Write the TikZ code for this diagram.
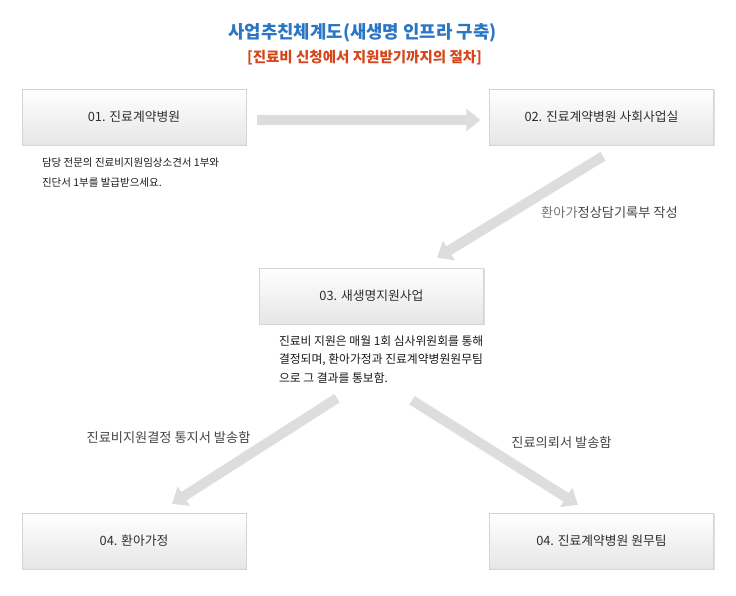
\documentclass[tikz,border=0pt]{standalone}
\usepackage{fontspec}
\setmainfont{Noto Sans CJK KR}
\usetikzlibrary{arrows.meta,shadows}
\definecolor{ttlblue}{HTML}{2B76C4}
\definecolor{subred}{HTML}{D6461A}
\definecolor{boxline}{HTML}{D4D4D4}
\definecolor{boxbot}{HTML}{E6E6E6}
\definecolor{flowgray}{HTML}{DDDDDD}
\definecolor{txtdark}{HTML}{2E2E2E}
\definecolor{lbldark}{HTML}{444444}
\tikzset{
  stepbox/.style={rectangle, draw=boxline, top color=white, bottom color=boxbot,
    minimum width=224pt, minimum height=56pt, inner sep=0pt, text=txtdark,
    font=\fontsize{12.8}{14}\selectfont,
    drop shadow={shadow xshift=1pt, shadow yshift=-1pt, opacity=0.12, fill=black}},
  flow/.style={draw=flowgray, line width=10pt, -{Triangle[length=14pt,width=22pt]}},
  note/.style={anchor=north west, inner sep=0pt, align=left, text=black!90},
  lbl/.style={inner sep=0pt, text=lbldark, font=\fontsize{13.2}{15}\selectfont}
}
\begin{document}
\begin{tikzpicture}[x=1pt, y=-1pt]
\useasboundingbox (0,0) rectangle (736,595);
\node[font=\fontsize{17.8}{20}\selectfont\bfseries, text=ttlblue] (ttl) at (362.5,33) {사업추친체계도(새생명 인프라 구축)};
\node[font=\fontsize{14.5}{16}\selectfont\bfseries, text=subred] (sub) at (364.5,58) {[진료비 신청에서 지원받기까지의 절차]};
\node[stepbox] (b1) at (134,117) {01. 진료계약병원};
\node[stepbox] (b2) at (601.5,117) {02. 진료계약병원 사회사업실};
\node[stepbox] (b3) at (371.5,296) {03. 새생명지원사업};
\node[stepbox] (b4a) at (134,541) {04. 환아가정};
\node[stepbox] (b4b) at (601.5,541) {04. 진료계약병원 원무팀};
\node[note, font=\fontsize{10.5}{20}\selectfont] (n1) at ([xshift=20pt,yshift=-12pt]b1.south west) {담당 전문의 진료비지원임상소견서 1부와\\진단서 1부를 발급받으세요.};
\node[note, font=\fontsize{11.8}{18.5}\selectfont] (n3) at ([xshift=19.5pt,yshift=-11pt]b3.south west) {진료비 지원은 매월 1회 심사위원회를 통해\\결정되며, 환아가정과 진료계약병원원무팀\\으로 그 결과를 통보함.};
\draw[flow] ([xshift=11pt,yshift=-3pt]b1.east) -- ([xshift=-9pt,yshift=-3pt]b2.west);
\draw[flow] ([xshift=1.5pt,yshift=-11pt]b2.south) -- ([xshift=65.5pt,yshift=10pt]b3.north);
\draw[flow] ([xshift=-34.5pt,yshift=-74pt]b3.south) -- ([xshift=38pt,yshift=9pt]b4a.north);
\draw[flow] ([xshift=40.5pt,yshift=-76pt]b3.south) -- ([xshift=-23.5pt,yshift=8pt]b4b.north);
\node[lbl] (l2) at (609.5,213) {\textcolor{black!55}{환아가}정상담기록부 작성};
\node[lbl] (l3) at (168.5,438) {진료비지원결정 통지서 발송함};
\node[lbl] (l4) at (561.5,443) {진료의뢰서 발송함};
\end{tikzpicture}
\end{document}
